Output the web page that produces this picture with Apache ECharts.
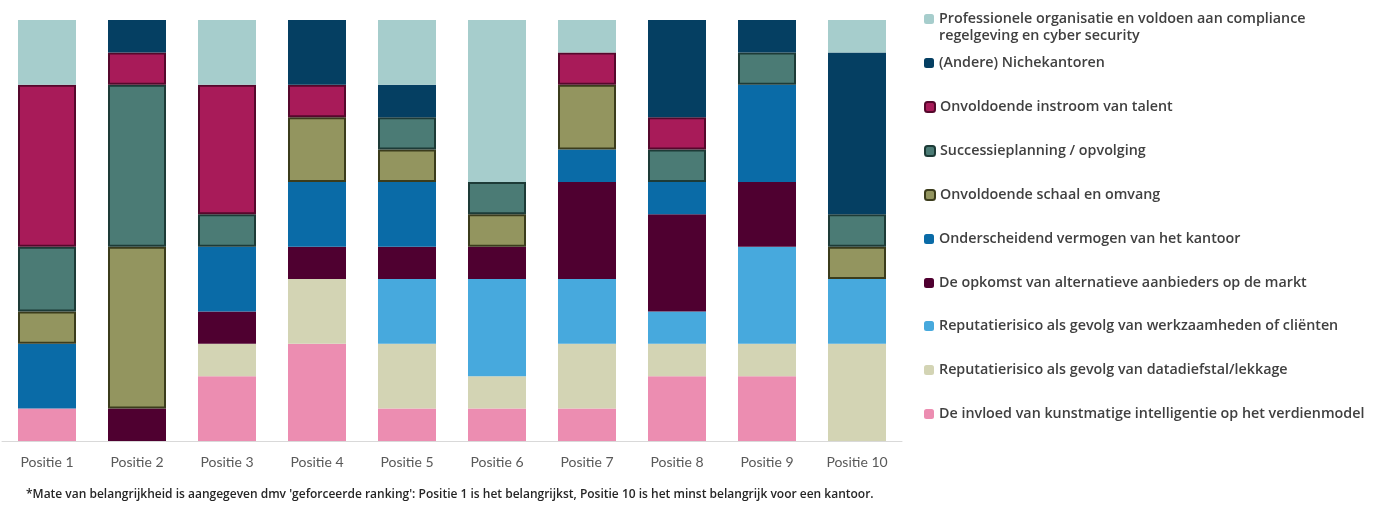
<!DOCTYPE html>
<html>
<head>
<meta charset="utf-8">
<script src="https://cdn.jsdelivr.net/npm/echarts@6/dist/echarts.min.js"></script>
<style>html,body{margin:0;padding:0;background:#fff}#c{width:1386px;height:508px}</style>
</head>
<body>
<div id="c"></div>
<script>
const categories = ['Positie 1','Positie 2','Positie 3','Positie 4','Positie 5','Positie 6','Positie 7','Positie 8','Positie 9','Positie 10'];
// series listed bottom of stack to top
const aiVerdienmodel   = [1,0,2,3,1,1,1,2,2,0];
const repDatadiefstal  = [0,0,1,2,2,1,2,1,1,3];
const repWerkzaamheden = [0,0,0,0,2,3,2,1,3,2];
const alternatieve     = [0,1,1,1,1,1,3,3,2,0];
const onderscheidend   = [2,0,2,2,2,0,1,1,3,0];
const schaal           = [1,5,0,2,1,1,2,0,0,1];
const successie        = [2,5,1,0,1,1,0,1,1,1];
const instroom         = [5,1,4,1,0,0,1,1,0,0];
const niche            = [0,1,0,2,1,0,0,3,1,5];
const professioneel    = [2,0,2,0,2,5,1,0,0,1];

const seriesDefs = [
  {name:'De invloed van kunstmatige intelligentie op het verdienmodel', data:aiVerdienmodel, color:'#ec8db1'},
  {name:'Reputatierisico als gevolg van datadiefstal/lekkage', data:repDatadiefstal, color:'#d3d4b4'},
  {name:'Reputatierisico als gevolg van werkzaamheden of cliënten', data:repWerkzaamheden, color:'#47a9dd'},
  {name:'De opkomst van alternatieve aanbieders op de markt', data:alternatieve, color:'#4f0030'},
  {name:'Onderscheidend vermogen van het kantoor', data:onderscheidend, color:'#0a6ba7'},
  {name:'Onvoldoende schaal en omvang', data:schaal, color:'#93955f', border:'#3b3c1c'},
  {name:'Successieplanning / opvolging', data:successie, color:'#4b7b75', border:'#1d3b37'},
  {name:'Onvoldoende instroom van talent', data:instroom, color:'#a81b59', border:'#55082c'},
  {name:'(Andere) Nichekantoren', data:niche, color:'#053f62'},
  {name:'Professionele organisatie en voldoen aan compliance regelgeving en cyber security', data:professioneel, color:'#a6cdcc'}
];

const legendTops = [18, 62, 106, 150, 194, 238, 282, 325, 369, 413]; // icon centers, top item first
const legendFont = {fontFamily:'Open Sans', fontSize:14.3, fontWeight:600, color:'#404040', lineHeight:17};

const legends = seriesDefs.slice().reverse().map((s, i) => ({
  data:[s.name],
  orient:'vertical',
  left:924,
  top:legendTops[i]-7.5,
  itemWidth:10,
  itemHeight:10,
  itemGap:0,
  padding:0,
  selectedMode:false,
  textStyle:legendFont,
  formatter: n => n.startsWith('Professionele') ? 'Professionele organisatie en voldoen aan compliance' : n
}));

const chart = echarts.init(document.getElementById('c'), null, {renderer:'canvas'});
chart.setOption({
  animation:false,
  backgroundColor:'#fff',
  title:[
    {text:'regelgeving en cyber security', left:939, top:35-7.5, padding:0, textStyle:Object.assign({}, legendFont)},
    {text:"*Mate van belangrijkheid is aangegeven dmv 'geforceerde ranking': Positie 1 is het belangrijkst, Positie 10 is het minst belangrijk voor een kantoor.",
     left:26, top:489, padding:0, textStyle:{fontFamily:'Open Sans', fontSize:12, fontWeight:600, color:'#262626'}}
  ],
  legend:legends,
  grid:{left:2, width:900, top:20, bottom:67, containLabel:false},
  xAxis:{type:'category', data:categories,
    axisLine:{lineStyle:{color:'#d9d9d9', width:1}}, axisTick:{show:false},
    axisLabel:{color:'#595959', fontFamily:'Lato', fontSize:14, margin:14}},
  yAxis:{type:'value', min:0, max:13, show:false, splitLine:{show:false}},
  series:seriesDefs.map(s => ({
    name:s.name, type:'bar', stack:'total', barWidth:58,
    data:s.data.map(v => v === 0 ? '-' : v),
    itemStyle:{color:s.color, borderColor:s.border || s.color, borderWidth:s.border ? 2 : 0},
    emphasis:{disabled:true}
  }))
});
</script>
</body>
</html>
